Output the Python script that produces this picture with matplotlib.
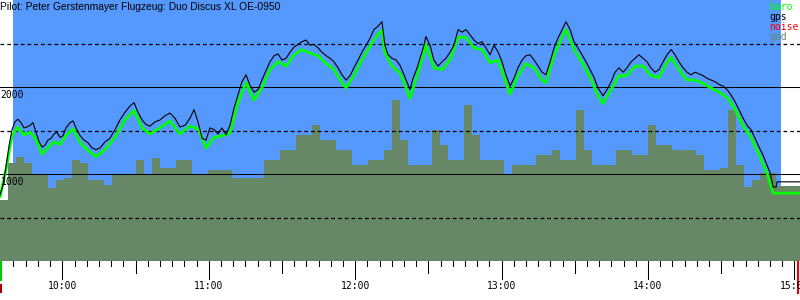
import numpy as np
import matplotlib
matplotlib.use("Agg")
import matplotlib.pyplot as plt
from matplotlib.transforms import blended_transform_factory

# time in minutes after 9:00, altitude in metres
gps_t = [34.5, 35.7, 37.0, 38.2, 39.4, 40.6, 41.8, 43.1, 44.3, 45.5, 46.8, 48.0, 49.2, 50.5, 51.7, 52.9,
         54.1, 55.4, 56.6, 57.8, 59.1, 60.3, 61.5, 63.2, 64.4, 65.6, 67.3, 68.9, 70.5, 72.2, 73.8, 75.5,
         77.5, 79.5, 81.6, 83.6, 85.7, 87.7, 89.4, 91.0, 92.7, 94.3, 95.9, 98.0, 100.0, 102.1, 104.1, 106.2,
         108.2, 110.3, 112.3, 114.0, 115.6, 117.3, 118.9, 120.5, 122.2, 123.8, 125.4, 127.1, 128.7, 130.4,
         132.0, 133.6, 135.3, 136.9, 138.6, 140.2, 141.8, 143.5, 145.1, 146.8, 148.4, 150.0, 151.7, 153.3,
         155.0, 156.6, 158.2, 159.9, 161.5, 163.1, 164.8, 166.4, 168.1, 169.7, 171.3, 173.0, 174.6, 176.3,
         177.9, 179.5, 181.2, 182.8, 184.5, 186.1, 187.7, 189.4, 191.0, 192.2, 193.5, 195.1, 196.8, 198.4,
         200.0, 201.7, 202.5, 203.7, 205.4, 207.0, 208.2, 209.0, 210.7, 212.3, 214.0, 215.6, 217.2, 218.9,
         220.5, 222.2, 223.8, 225.4, 227.1, 228.7, 230.4, 232.0, 233.6, 235.3, 236.9, 238.6, 240.2, 241.8,
         243.5, 245.1, 246.7, 248.4, 250.0, 251.7, 253.3, 255.0, 256.6, 258.2, 259.9, 261.5, 263.1, 264.8,
         266.4, 268.1, 269.7, 271.3, 273.0, 274.6, 276.3, 277.9, 279.5, 281.6, 283.2, 284.9, 286.5, 288.1,
         289.8, 291.4, 293.1, 294.7, 296.3, 298.0, 299.6, 301.2, 302.9, 304.5, 306.2, 307.8, 309.5, 311.1,
         312.7, 314.4, 316.0, 317.6, 319.3, 320.9, 322.6, 324.2, 325.8, 327.5, 329.1, 330.8, 332.4, 334.0,
         335.7, 337.3, 339.0, 340.6, 342.2, 343.9, 345.5, 347.1, 348.8, 350.0, 351.3, 352.5, 352.9, 362.3]
gps_alt = [760, 870, 1100, 1330, 1510, 1600, 1630, 1590, 1530, 1540, 1560, 1590, 1480, 1370, 1310, 1330,
           1390, 1410, 1460, 1480, 1420, 1440, 1530, 1590, 1610, 1530, 1440, 1390, 1360, 1300, 1280, 1300,
           1370, 1410, 1510, 1620, 1710, 1780, 1820, 1710, 1620, 1570, 1550, 1600, 1620, 1670, 1700, 1640,
           1540, 1560, 1640, 1740, 1600, 1410, 1390, 1530, 1510, 1460, 1530, 1450, 1560, 1760,
           1910, 2060, 2140, 2020, 1940, 1970, 2080, 2190, 2290, 2360, 2380, 2310, 2330, 2400,
           2460, 2490, 2520, 2540, 2480, 2490, 2450, 2400, 2360, 2330, 2290, 2220, 2140, 2080,
           2130, 2220, 2310, 2400, 2480, 2560, 2660, 2700, 2750, 2480, 2370, 2330, 2310, 2250,
           2140, 2020, 1970, 2100, 2220, 2370, 2480, 2580, 2480, 2310, 2240, 2290, 2330, 2400,
           2480, 2660, 2630, 2660, 2600, 2540, 2500, 2520, 2450, 2370, 2480, 2400, 2290, 2140,
           2010, 2100, 2220, 2310, 2360, 2370, 2310, 2240, 2170, 2140, 2290, 2450, 2560, 2660,
           2750, 2660, 2520, 2450, 2370, 2290, 2200, 2110, 1990, 1900, 1970, 2060, 2170, 2220,
           2170, 2220, 2290, 2330, 2370, 2330, 2290, 2220, 2170, 2200, 2290, 2370, 2430, 2370,
           2290, 2220, 2170, 2140, 2170, 2150, 2130, 2100, 2080, 2060, 2030, 2010, 1970, 1910,
           1830, 1740, 1640, 1560, 1510, 1410, 1310, 1220, 1100, 1020, 850, 850, 910, 910]

baro_t = [34.5, 37.0, 39.4, 41.8, 44.3, 46.8, 49.2, 51.7, 54.1, 56.6, 59.1, 61.5, 64.4, 67.3, 70.5, 73.8,
          77.5, 81.6, 85.7, 89.4, 92.7, 95.9, 100.0, 104.1, 108.2, 112.3, 115.6, 118.9, 122.2, 125.4, 128.7,
          132.0, 135.3, 138.6, 141.8, 145.1, 148.4, 151.7, 155.0, 158.2, 161.5, 164.8, 168.1, 171.3, 174.6,
          176.3, 179.5, 182.8, 186.1, 189.4, 191.0, 192.2, 195.1, 198.4, 201.7, 202.5, 205.4, 208.2, 209.0,
          212.3, 215.6, 218.9, 222.2, 225.4, 228.7, 232.0, 235.3, 238.6, 241.8, 243.5, 246.7, 250.0, 253.3,
          256.6, 258.2, 261.5, 264.8, 266.4, 269.7, 273.0, 276.3, 279.5, 281.6, 284.9, 288.1, 291.4, 294.7,
          298.0, 301.2, 304.5, 307.8, 309.5, 312.7, 316.0, 319.3, 322.6, 325.8, 329.1, 332.4, 335.7, 339.0,
          342.2, 345.5, 348.8, 350.5, 351.3, 362.3]
baro_alt = [740, 1060, 1440, 1540, 1450, 1480, 1400, 1230, 1300, 1370, 1340, 1440, 1520, 1360, 1270, 1200,
            1280, 1420, 1620, 1730, 1530, 1460, 1530, 1610, 1460, 1550, 1520, 1300, 1420, 1440, 1470,
            1820, 2050, 1850, 1990, 2200, 2290, 2240, 2370, 2430, 2390, 2360, 2270, 2200, 2050,
            1990, 2130, 2310, 2470, 2610, 2650, 2390, 2240, 2160, 1930, 1870, 2130, 2390, 2490,
            2220, 2200, 2310, 2570, 2570, 2450, 2430, 2280, 2310, 2050, 1920, 2130, 2270, 2220,
            2080, 2050, 2360, 2570, 2660, 2430, 2280, 2110, 1900, 1810, 1970, 2130, 2130, 2240,
            2240, 2130, 2110, 2280, 2340, 2200, 2080, 2080, 2040, 1990, 1940, 1880, 1740, 1550,
            1420, 1220, 1010, 850, 780, 780]

# terrain below the track, one value every 3.28 min from 9:34.5
gnd_start = 34.47
gnd_step = 3.28
gnd_alt = [700, 1130, 1190, 1130, 990, 990, 840, 930, 950, 1160, 1130, 930, 930, 870, 990, 990,
           990, 1160, 990, 1180, 1070, 1070, 1160, 1160, 990, 990, 1050, 1050, 1050, 950, 950, 950,
           950, 1160, 1160, 1280, 1280, 1450, 1450, 1560, 1390, 1390, 1280, 1280, 1100, 1100, 1160, 1160,
           1280, 1850, 1390, 1100, 1100, 1100, 1510, 1330, 1160, 1160, 1790, 1450, 1160, 1160, 1160, 990,
           1100, 1100, 1100, 1220, 1220, 1280, 1160, 1160, 1740, 1280, 1100, 1100, 1100, 1280, 1280, 1220,
           1220, 1560, 1330, 1330, 1280, 1280, 1280, 1220, 1050, 1050, 1070, 1740, 1100, 850, 930, 1010,
           1010, 860, 860, 860]

hours = ["10:00", "11:00", "12:00", "13:00", "14:00", "15:00"]
title = "Pilot: Peter Gerstenmayer Flugzeug: Duo Discus XL OE-0950"

SKY = "#5599ff"
GND = "#668866"
mono = "DejaVu Sans Mono"

fig = plt.figure(figsize=(8, 3), dpi=100)
ax = fig.add_axes([0, 39 / 300, 1, 261 / 300])
ax.set_xlim(34.47, 362.3)
ax.set_ylim(0, 3000)
ax.axis("off")

# sky between launch and landing
ax.axvspan(39.8, 354.5, color=SKY, lw=0, zorder=0)

gnd_t = gnd_start + gnd_step * np.arange(len(gnd_alt) + 1)
ax.fill_between(gnd_t, 0, gnd_alt + [gnd_alt[-1]], step="post", color=GND, lw=0, zorder=1)

# altitude grid
for h in [1000, 2000]:
    ax.axhline(h, color="black", lw=0.75, zorder=2)
for h in [500, 1500, 2500]:
    ax.axhline(h, color="black", lw=0.9, ls=(0, (3.0, 2.4)), zorder=2)
ax.axhline(0, color="black", lw=0.75, zorder=2)

ax.plot(baro_t, baro_alt, color="#00ff00", lw=2.0, zorder=3)
ax.plot(gps_t, gps_alt, color="black", lw=0.8, zorder=4)

tr = blended_transform_factory(ax.transAxes, ax.transData)
ax.text(0.001, 2000 - 30, "2000", transform=tr, fontsize=7, family=mono, va="top", ha="left", zorder=5)
ax.text(0.001, 1000 - 30, "1000", transform=tr, fontsize=7, family=mono, va="top", ha="left", zorder=5)

# time ticks under the plot
xt = ax.get_xaxis_transform()
px = 1 / 261
for m in range(35, 363, 5):
    if m % 60 == 0:
        ln = 18
    elif m % 30 == 0:
        ln = 12
    else:
        ln = 5
    ax.plot([m, m], [0, -ln * px], color="black", lw=0.75, transform=xt, clip_on=False)
for i, lab in enumerate(hours):
    ax.text(60 * (i + 1), -25 * px, lab, transform=xt, fontsize=7, family=mono,
            ha="center", va="center", clip_on=False)

# launch / landing markers
ax.plot([34.7, 34.7], [-1 * px, -19 * px], color="#00cc00", lw=1.5, transform=xt, clip_on=False)
ax.plot([34.7, 34.7], [-24 * px, -31 * px], color="#aa0000", lw=1.5, transform=xt, clip_on=False)
ax.plot([361.3, 361.3], [-1 * px, -32 * px], color="#ee0000", lw=1.5, transform=xt, clip_on=False)

fig.text(0, 1 - 1.5 / 300, title, fontsize=7.4, family="Liberation Sans", va="top", ha="left")

leg = [("baro", "#00ff00"), ("gps", "black"), ("noise", "#ff0000"), ("gnd", GND)]
for i, (name, c) in enumerate(leg):
    fig.text(769 / 800, 1 - (6.5 + 10 * i) / 300, name, color=c, fontsize=7, family=mono,
             va="center", ha="left")

fig.savefig("out.png", dpi=100)
